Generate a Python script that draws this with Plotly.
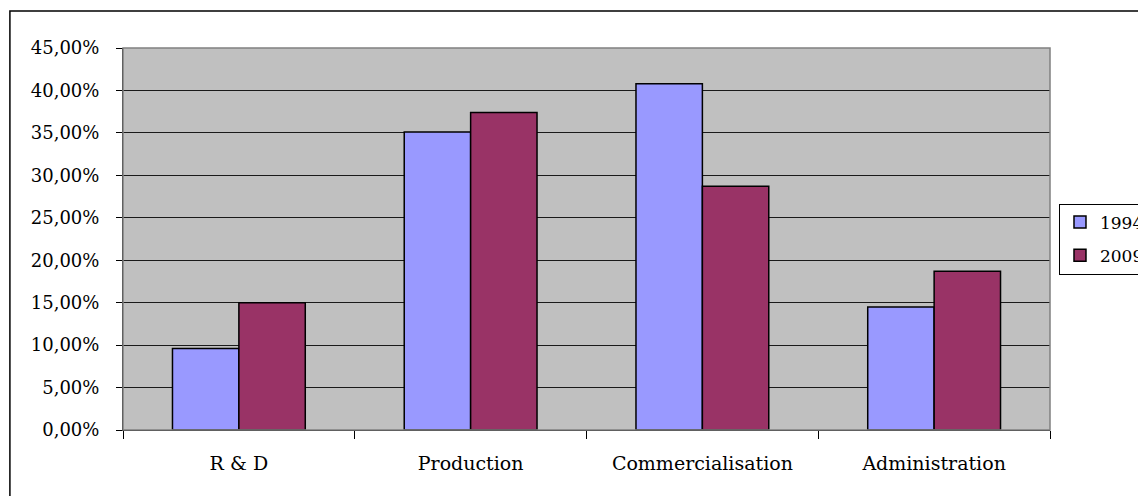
import plotly.graph_objects as go

categories = ["R & D", "Production", "Commercialisation", "Administration"]
series_names = ["1994", "2009"]
values_1994 = [0.096, 0.351, 0.408, 0.145]
values_2009 = [0.150, 0.374, 0.287, 0.187]
colors = ["#9999FF", "#993366"]
y_ticks = [0, 0.05, 0.10, 0.15, 0.20, 0.25, 0.30, 0.35, 0.40, 0.45]

FONT = "DejaVu Serif"

fig = go.Figure()
for name, vals, col in zip(series_names, [values_1994, values_2009], colors):
    fig.add_trace(go.Bar(
        x=categories, y=vals, name=name, legendgroup=name,
        marker=dict(color=col, line=dict(color="black", width=1.5)),
    ))

fig.update_layout(
    width=1138, height=488,
    margin=dict(l=115, r=96, t=40, b=66, autoexpand=False),
    paper_bgcolor="white",
    plot_bgcolor="#C0C0C0",
    barmode="group",
    bargap=0.427,
    bargroupgap=0,
    separators=",.",
    font=dict(family=FONT, size=18, color="black"),
    showlegend=True,
    legend=dict(
        x=1.0097, xanchor="left", y=0.5, yanchor="middle",
        bordercolor="black", borderwidth=1, bgcolor="white",
        font=dict(family=FONT, size=17, color="black"),
        traceorder="grouped", tracegroupgap=8,
    ),
    xaxis=dict(
        type="category",
        tickson="boundaries",
        ticks="outside", ticklen=8, tickcolor="black", tickwidth=1,
        showline=True, linecolor="black", linewidth=1,
        showgrid=False,
        tickfont=dict(family=FONT, size=19),
        ticklabelstandoff=16,
        range=[-0.5, 3.5],
    ),
    yaxis=dict(
        range=[0, 0.45],
        tickvals=y_ticks,
        tickformat=".2%",
        ticks="outside", ticklen=6, tickcolor="black", tickwidth=1,
        showline=True, linecolor="black", linewidth=1,
        showgrid=True, gridcolor="#1a1a1a", gridwidth=1,
        zeroline=False,
        tickfont=dict(family=FONT, size=18),
        ticklabelstandoff=13,
    ),
)

# plot-area frame (gray, Excel style) and outer chart border
fig.add_shape(type="rect", xref="paper", yref="paper", x0=0, x1=1, y0=0, y1=1,
              line=dict(color="#808080", width=1.5), layer="above")
fig.add_shape(type="rect", xref="paper", yref="paper",
              x0=-0.122, x1=1.3, y0=-0.3, y1=1.097,
              line=dict(color="black", width=1.5), layer="above")
fig.update_xaxes(layer="above traces")
fig.update_yaxes(layer="above traces")

fig.write_html("out.html")
